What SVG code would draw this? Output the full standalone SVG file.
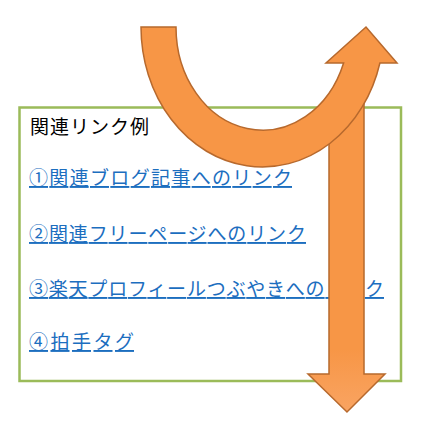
<svg xmlns="http://www.w3.org/2000/svg" width="443" height="438" viewBox="0 0 443 438">
<style>
.box{fill:#FFFFFF;stroke:#9BBB59;stroke-width:2.5}
.title{font-family:"Noto Sans CJK JP","Noto Sans CJK SC",sans-serif;font-size:19px;fill:#000000}
.link{font-family:"Noto Sans CJK JP","Noto Sans CJK SC",sans-serif;font-size:19px;fill:#1C6EBF;text-decoration:underline}
.arrow{stroke:#B7692D;stroke-width:1.5;stroke-linejoin:miter}
</style>
<defs>
<linearGradient id="downGrad" x1="0" y1="0" x2="0" y2="1">
<stop offset="0" stop-color="#F79646"/>
<stop offset="0.8" stop-color="#F79646"/>
<stop offset="1" stop-color="#F9A462"/>
</linearGradient>
</defs>
<rect width="443" height="438" fill="#FFFFFF"/>
<g id="link-box">
<rect class="box" x="19.5" y="107.5" width="381.5" height="273.5"/>
<text class="title" x="30" y="134" textLength="119" lengthAdjust="spacing">関連リンク例</text>
<text class="link" x="29" y="185" textLength="263" lengthAdjust="spacing">①関連ブログ記事へのリンク</text>
<text class="link" x="29" y="241" textLength="277" lengthAdjust="spacing">②関連フリーページへのリンク</text>
<text class="link" x="29" y="296" textLength="355" lengthAdjust="spacing">③楽天プロフィールつぶやきへのリンク</text>
<text class="link" x="29" y="349" textLength="105" lengthAdjust="spacing">④拍手タグ</text>
</g>
<g id="connectors">
<path id="down-arrow" class="arrow" fill="url(#downGrad)" d="M329,100 L364,100 L364,374 L385,374 L347,412 L308,374 L329,374 Z"/>
<path id="curved-up-arrow" class="arrow" fill="#F79646" d="M141,27 A121.5,140 0 0 0 379.9,63 L397,63 L366,27 L326,63 L343.6,63 A86.5,103 0 0 1 176,27 Z"/>
</g>
</svg>
